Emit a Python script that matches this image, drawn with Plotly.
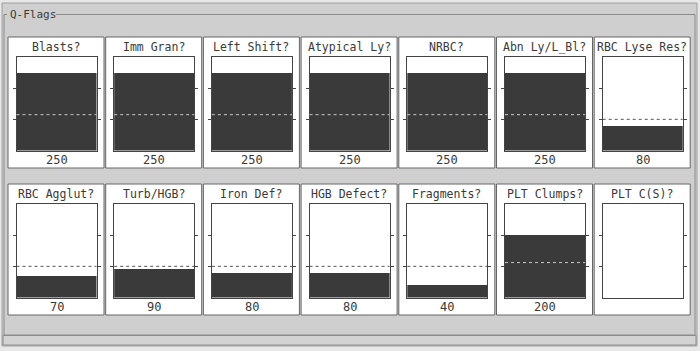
import plotly.graph_objects as go

# ---------------- data ----------------
flags_row1 = ["Blasts?", "Imm Gran?", "Left Shift?", "Atypical Ly?", "NRBC?", "Abn Ly/L_Bl?", "RBC Lyse Res?"]
values_row1 = [250, 250, 250, 250, 250, 250, 80]
thresholds_row1 = [115, 115, 115, 115, 115, 115, 100]

flags_row2 = ["RBC Agglut?", "Turb/HGB?", "Iron Def?", "HGB Defect?", "Fragments?", "PLT Clumps?", "PLT C(S)?"]
values_row2 = [70, 90, 80, 80, 40, 200, None]
thresholds_row2 = [100, 100, 100, 100, 100, 112, None]

group_title = "Q-Flags"
y_max = 300
tick_values = [100, 200]

# ---------------- layout helpers ----------------
W, H = 700, 351
FONT = "DejaVu Sans Mono"
BAR = "#3a3a3a"
TXT = "#3a3a3a"


def px(x):
    return x / W


def py(y):
    return 1 - y / H


fig = go.Figure()
shapes = []
annotations = []

# outer panel
shapes.append(dict(type="rect", xref="paper", yref="paper", x0=px(2), x1=px(697), y0=py(346), y1=py(3),
                   fillcolor="#cfcfcf", line=dict(color="#a0a0a0", width=1), layer="below"))
# lower band
shapes.append(dict(type="rect", xref="paper", yref="paper", x0=px(3), x1=px(696), y0=py(345), y1=py(335.5),
                   fillcolor="#d3d3d3", line=dict(color="#8c8c8c", width=1), layer="below"))
# group frame (with gap for the title)
frame_col = "#8a8a8a"
for (xa, ya, xb, yb) in [(4, 14.5, 7, 14.5), (56, 14.5, 695, 14.5), (4, 14.5, 4, 335), (695, 14.5, 695, 335),
                         (4, 335, 695, 335)]:
    shapes.append(dict(type="line", xref="paper", yref="paper", x0=px(xa), x1=px(xb), y0=py(ya), y1=py(yb),
                       line=dict(color=frame_col, width=1), layer="below"))
annotations.append(dict(text=group_title, xref="paper", yref="paper", x=px(8), y=py(15), xanchor="left",
                        yanchor="middle", showarrow=False, font=dict(family=FONT, size=11, color=TXT)))

rows = [
    (flags_row1, values_row1, thresholds_row1, 37, 168),
    (flags_row2, values_row2, thresholds_row2, 184, 315),
]

n = 0
for r, (flags, values, thr, top, bottom) in enumerate(rows):
    for i, (name, val, th) in enumerate(zip(flags, values, thr)):
        n += 1
        left = 8 + 97.7 * i
        right = left + 96
        # card
        shapes.append(dict(type="rect", xref="paper", yref="paper", x0=px(left), x1=px(right), y0=py(bottom),
                           y1=py(top), fillcolor="white", line=dict(color="#666666", width=1), layer="below"))
        bx0, bx1 = left + 8.5, left + 88.5
        by0, by1 = top + 20, top + 113.5
        xa = "x" if n == 1 else f"x{n}"
        ya = "y" if n == 1 else f"y{n}"
        xkey = "xaxis" if n == 1 else f"xaxis{n}"
        ykey = "yaxis" if n == 1 else f"yaxis{n}"
        fig.add_trace(go.Bar(x=[0], y=[val], width=1, marker=dict(color=BAR, line=dict(width=0)),
                             xaxis=xa, yaxis=ya, showlegend=False, hoverinfo="skip"))
        fig.layout[xkey] = dict(domain=[px(bx0), px(bx1)], anchor=ya, range=[-0.5, 0.5], showticklabels=False,
                                showgrid=False, zeroline=False, showline=True, mirror=True, linecolor="#444444",
                                linewidth=1, ticks="", fixedrange=True)
        fig.layout[ykey] = dict(domain=[py(by1), py(by0)], anchor=xa, range=[0, y_max], showticklabels=False,
                                showgrid=False, zeroline=False, showline=True, mirror="ticks", linecolor="#444444",
                                linewidth=1, ticks="outside", ticklen=3, tickcolor="#444444", tickwidth=1,
                                tickvals=tick_values, fixedrange=True)
        if th is not None:
            inside = val is not None and val > th
            shapes.append(dict(type="line", xref=f"{xa} domain", yref=ya, x0=0, x1=1, y0=th, y1=th,
                               line=dict(color="#c8c8c8" if inside else "#555555", width=1, dash="dot"),
                               layer="above"))
        annotations.append(dict(text=name, xref="paper", yref="paper", x=px((left + right) / 2), y=py(top + 10),
                                xanchor="center", yanchor="middle", showarrow=False,
                                font=dict(family=FONT, size=11.5, color=TXT)))
        annotations.append(dict(text="" if val is None else str(val), xref="paper", yref="paper",
                                x=px((bx0 + bx1) / 2), y=py(by1 + 9), xanchor="center", yanchor="middle",
                                showarrow=False, font=dict(family=FONT, size=12, color=TXT)))

fig.update_layout(width=W, height=H, margin=dict(l=0, r=0, t=0, b=0), paper_bgcolor="#e8e8e8",
                  plot_bgcolor="white", shapes=shapes, annotations=annotations, bargap=0, showlegend=False)

fig.write_html("out.html")
